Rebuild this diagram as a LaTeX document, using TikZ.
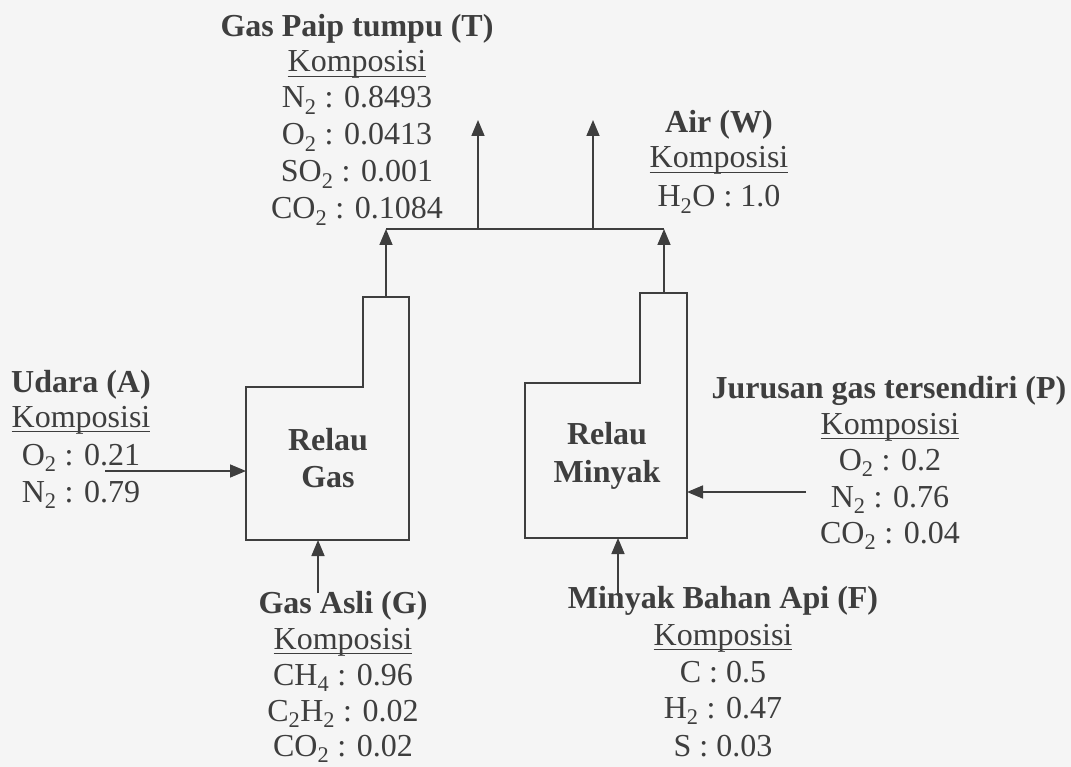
\documentclass[tikz,border=0pt]{standalone}
\usepackage{fontspec}
\setmainfont{Liberation Serif}
\usetikzlibrary{arrows.meta}
\definecolor{ink}{RGB}{62,62,62}
\definecolor{paper}{RGB}{245,245,245}
\newcommand\komp{\setbox0\hbox{Komposisi}\rlap{\rule[-5pt]{\wd0}{1.4pt}}\box0}
\begin{document}
\begin{tikzpicture}[x=1pt,y=-1pt,
  lbl/.style={anchor=base, inner sep=0pt, text=ink, font=\fontsize{32}{38}\selectfont},
  ttl/.style={lbl, font=\fontsize{32}{38}\selectfont\bfseries},
  wall/.style={draw=ink, line width=1.6pt, line join=miter},
  pipe/.style={draw=ink, line width=1.6pt},
  flow/.style={pipe, -{Triangle[length=16pt,width=13pt]}}]
\fill[paper] (0,0) rectangle (1071,767);
\useasboundingbox (0,0) rectangle (1071,767);

% furnaces
\draw[wall] (246,387) -- (363,387) -- (363,297) -- (409,297) -- (409,540) -- (246,540) -- cycle;
\draw[wall] (525,383) -- (640,383) -- (640,293) -- (687,293) -- (687,538) -- (525,538) -- cycle;
\node[ttl] (gas1) at (328,450) {Relau};
\node[ttl] (gas2) at (328,487) {Gas};
\node[ttl] (oil1) at (607,444) {Relau};
\node[ttl] (oil2) at (607,482) {Minyak};

% connection points
\coordinate (gTop) at (386,297);
\coordinate (gLeft) at (246,471);
\coordinate (gBot) at (318,540);
\coordinate (oTop) at (664,293);
\coordinate (oRight) at (687,492);
\coordinate (oBot) at (618,538);
\coordinate (hL) at (386,229);
\coordinate (hR) at (664,229);
\coordinate (hA) at (478,229);
\coordinate (hB) at (593,229);
\coordinate (outT) at (478,120);
\coordinate (outW) at (593,120);
\coordinate (inA) at (105,471);
\coordinate (inP) at (806,492);
\coordinate (inG) at (318,593);
\coordinate (inF) at (618,593);

\draw[pipe] (hL) -- (hR);
\draw[flow] (gTop) -- (hL);
\draw[flow] (oTop) -- (hR);
\draw[flow] (hA) -- (outT);
\draw[flow] (hB) -- (outW);
\draw[flow] (inA) -- (gLeft);
\draw[flow] (inP) -- (oRight);
\draw[flow] (inG) -- (gBot);
\draw[flow] (inF) -- (oBot);

% Gas Paip tumpu (T)
\node[ttl] (t0) at (357,37) {Gas Paip tumpu (T)};
\node[lbl] (t1) at (357,72) {\komp};
\node[lbl] (t2) at (357,108) {N\textsubscript{2} : 0.8493};
\node[lbl] (t3) at (357,145) {O\textsubscript{2} : 0.0413};
\node[lbl] (t4) at (357,182) {SO\textsubscript{2} : 0.001};
\node[lbl] (t5) at (357,219) {CO\textsubscript{2} : 0.1084};

% Air (W)
\node[ttl] (w0) at (719,133) {Air (W)};
\node[lbl] (w1) at (719,168) {\komp};
\node[lbl] (w2) at (719,207) {H\textsubscript{2}O : 1.0};

% Udara (A)
\node[ttl] (a0) at (81,392) {Udara (A)};
\node[lbl] (a1) at (81,427) {\komp};
\node[lbl] (a2) at (81,465) {O\textsubscript{2} : 0.21};
\node[lbl] (a3) at (81,502) {N\textsubscript{2} : 0.79};

% Jurusan gas tersendiri (P)
\node[ttl] (p0) at (889,398) {Jurusan gas tersendiri (P)};
\node[lbl] (p1) at (890,434) {\komp};
\node[lbl] (p2) at (890,470) {O\textsubscript{2} : 0.2};
\node[lbl] (p3) at (890,507) {N\textsubscript{2} : 0.76};
\node[lbl] (p4) at (890,543) {CO\textsubscript{2} : 0.04};

% Gas Asli (G)
\node[ttl] (g0) at (343,613) {Gas Asli (G)};
\node[lbl] (g1) at (343,649) {\komp};
\node[lbl] (g2) at (343,685) {CH\textsubscript{4} : 0.96};
\node[lbl] (g3) at (343,721) {C\textsubscript{2}H\textsubscript{2} : 0.02};
\node[lbl] (g4) at (343,756) {CO\textsubscript{2} : 0.02};

% Minyak Bahan Api (F)
\node[ttl] (f0) at (723,608) {Minyak Bahan Api (F)};
\node[lbl] (f1) at (723,645) {\komp};
\node[lbl] (f2) at (723,682) {C : 0.5};
\node[lbl] (f3) at (723,718) {H\textsubscript{2} : 0.47};
\node[lbl] (f4) at (723,756) {S : 0.03};
\end{tikzpicture}
\end{document}
